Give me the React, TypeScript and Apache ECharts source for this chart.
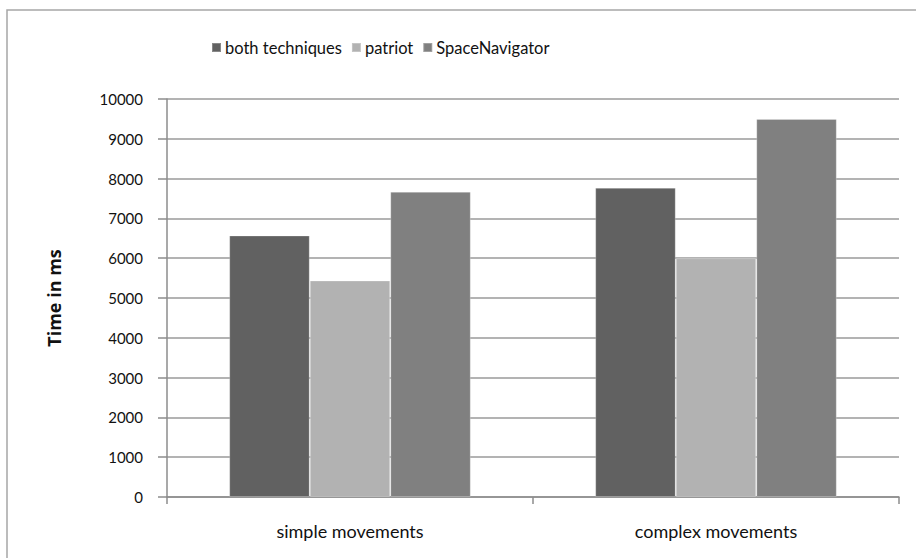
import React, { useEffect, useRef } from "react";
import * as echarts from "echarts";

const categories = ["simple movements", "complex movements"];
const seriesNames = ["both techniques", "patriot", "SpaceNavigator"];
const bothTechniques = [6570, 7770];
const patriot = [5440, 6000];
const spaceNavigator = [7670, 9500];
const yTicks = { min: 0, max: 10000, interval: 1000 };

const colors = ["#616161", "#b2b2b2", "#808080"];
const FONT = "Lato";

export default function App() {
  const ref = useRef<HTMLDivElement>(null);
  useEffect(() => {
    document.body.style.margin = "0";
    const chart = echarts.init(ref.current!, null, { renderer: "svg" });
    const values = [bothTechniques, patriot, spaceNavigator];
    chart.setOption({
      animation: false,
      backgroundColor: "#ffffff",
      textStyle: { fontFamily: FONT },
      graphic: [
        {
          type: "rect",
          shape: { x: 7, y: 10, width: 930, height: 570 },
          style: { fill: "none", stroke: "#a6a6a6", lineWidth: 1.5 },
          silent: true,
        },
      ],
      legend: {
        top: 34,
        left: 206,
        itemWidth: 9,
        itemHeight: 9,
        itemGap: 9,
        icon: "rect",
        textStyle: { fontFamily: FONT, fontSize: 16.5, color: "#111", padding: [0, 0, 0, -1] },
        data: seriesNames,
      },
      grid: { left: 167, right: 17, top: 99, bottom: 61, containLabel: false },
      xAxis: {
        type: "category",
        data: categories,
        boundaryGap: true,
        axisLine: { show: true, lineStyle: { color: "#8c8c8c", width: 1.5 } },
        axisTick: { show: true, alignWithLabel: false, length: 7, lineStyle: { color: "#8c8c8c", width: 1.5 } },
        axisLabel: { fontFamily: FONT, fontSize: 18, color: "#111", margin: 25 },
        splitLine: { show: false },
      },
      yAxis: {
        type: "value",
        min: yTicks.min,
        max: yTicks.max,
        interval: yTicks.interval,
        name: "Time in ms",
        nameLocation: "middle",
        nameGap: 104,
        nameRotate: 90,
        nameTextStyle: { fontFamily: "Open Sans", fontSize: 18, fontWeight: "bold", color: "#111" },
        axisLine: { show: true, lineStyle: { color: "#8c8c8c", width: 1.5 } },
        axisTick: { show: true, inside: false, length: 9, lineStyle: { color: "#8c8c8c", width: 1.5 } },
        axisLabel: { fontFamily: FONT, fontSize: 15, color: "#111", margin: 24, formatter: (v: number) => String(v) },
        splitLine: { show: true, lineStyle: { color: "#9a9a9a", width: 1.5 } },
      },
      series: seriesNames.map((name, i) => ({
        name,
        type: "bar",
        data: values[i],
        barGap: "0%",
        barCategoryGap: "34%",
        itemStyle: { color: colors[i], borderColor: "rgba(255,255,255,0.25)", borderWidth: 1 },
      })),
    });
    return () => chart.dispose();
  }, []);
  return <div ref={ref} style={{ width: 916, height: 558 }} />;
}
